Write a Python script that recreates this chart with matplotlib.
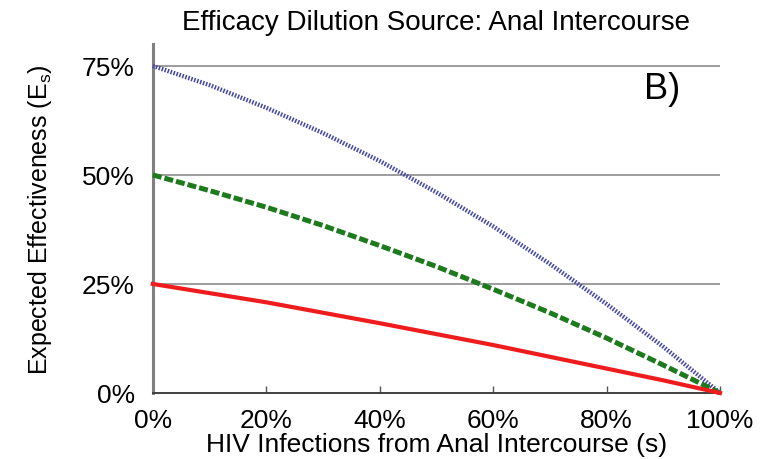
import matplotlib
matplotlib.use("Agg")
import matplotlib.pyplot as plt
from matplotlib.ticker import PercentFormatter

plt.rcParams['font.family'] = ['Liberation Sans', 'DejaVu Sans']

# share of infections from anal intercourse
s = [0.0, 0.1, 0.2, 0.3, 0.4, 0.5, 0.6, 0.7, 0.8, 0.9, 1.0]
# expected effectiveness
eff_75 = [0.75, 0.706, 0.654, 0.596, 0.532, 0.460, 0.382, 0.296, 0.204, 0.106, 0.0]
eff_50 = [0.50, 0.464, 0.426, 0.384, 0.338, 0.290, 0.238, 0.184, 0.126, 0.064, 0.0]
eff_25 = [0.25, 0.229, 0.208, 0.184, 0.160, 0.135, 0.110, 0.083, 0.056, 0.029, 0.0]
xticks = [0.0, 0.2, 0.4, 0.6, 0.8, 1.0]
yticks = [0.0, 0.25, 0.5, 0.75]

fig = plt.figure(figsize=(7.68, 4.6), dpi=100)
ax = fig.add_axes([0.199, 0.1435, 0.7385, 0.7585])

for yv in yticks[1:]:
    ax.axhline(yv, color='#8c8c8c', lw=1.2, zorder=1)

ax.plot(s, eff_75, color='#4646a6', lw=3.2, linestyle=(0, (0.35, 0.35)), zorder=3, clip_on=False)
ax.plot(s, eff_50, color='#1d7a1d', lw=3.6, linestyle=(0, (1.8, 0.6)), zorder=3, clip_on=False)
ax.plot(s, eff_25, color='#ee1c1c', lw=3.0, zorder=3, clip_on=False)

ax.set_xlim(0, 1)
ax.set_ylim(0, 0.8)
ax.set_xticks(xticks)
ax.set_yticks(yticks)
ax.xaxis.set_major_formatter(PercentFormatter(1.0, decimals=0))
ax.yaxis.set_major_formatter(PercentFormatter(1.0, decimals=0))
ax.tick_params(axis='x', direction='in', length=5, width=1, color='#555555', pad=11, labelsize=19)
ax.tick_params(axis='y', length=0, pad=13, labelsize=19)

for side in ['top', 'right']:
    ax.spines[side].set_visible(False)
ax.spines['left'].set_color('#808080')
ax.spines['left'].set_linewidth(2.2)
ax.spines['bottom'].set_color('#404040')
ax.spines['bottom'].set_linewidth(1.4)

ax.set_xlabel('HIV Infections from Anal Intercourse (s)', fontsize=19, labelpad=0)
ax.set_ylabel('Expected Effectiveness (E$_\\mathregular{s}$)', fontsize=18, labelpad=20)
ax.set_title('Efficacy Dilution Source: Anal Intercourse', fontsize=20, pad=11)
ax.text(0.898, 0.872, 'B)', transform=ax.transAxes, fontsize=26, ha='center', va='center')

fig.savefig('out.png', dpi=100)
